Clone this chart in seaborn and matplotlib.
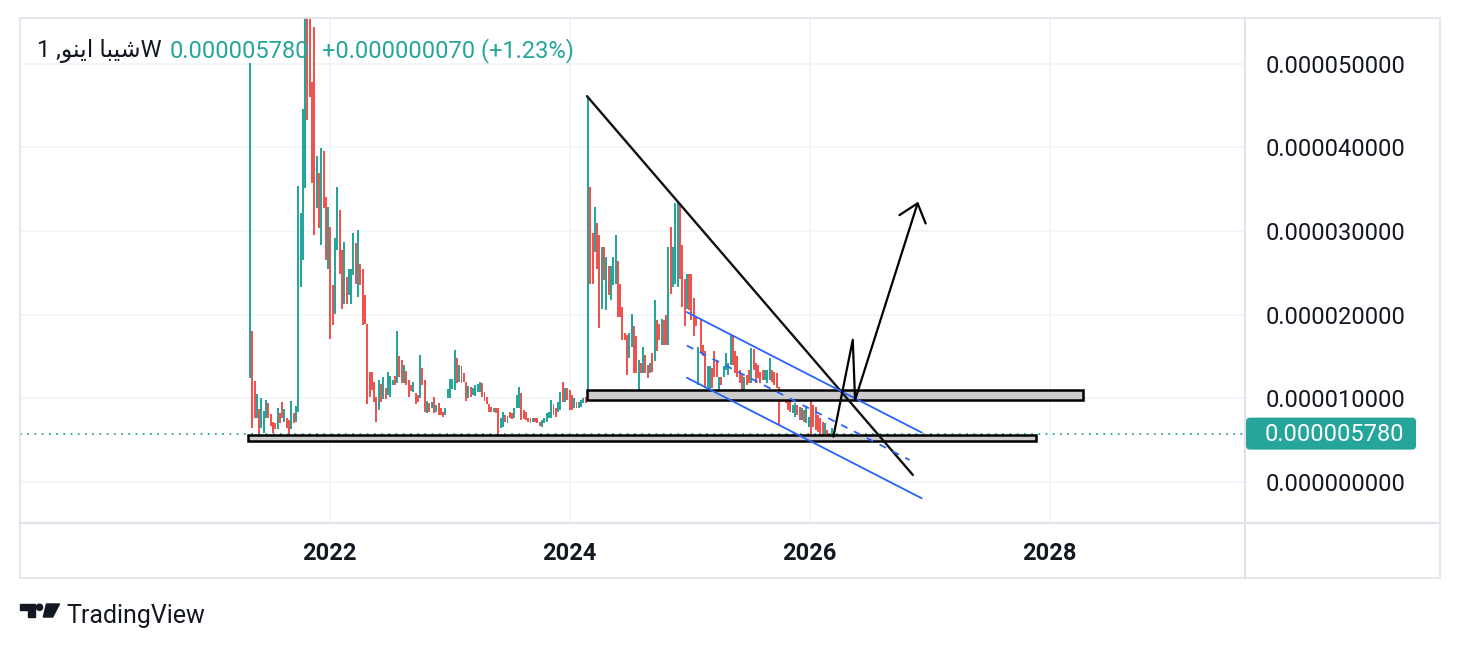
import numpy as np
import pandas as pd
import matplotlib
matplotlib.use('Agg')
import matplotlib.pyplot as plt
import matplotlib.dates as mdates
from matplotlib.patches import Rectangle, Polygon, Circle, FancyBboxPatch
import seaborn as sns

# 주간 봉 (단위: 1e-6), 막대 시작/끝 값
first_week = '2021-05-03'
bar_open = [
    12.4, 18.0, 12.1, 7.6, 8.7, 6.5, 5.9, 7.6, 9.4, 8.1,
    7.2, 7.0, 6.3, 8.3, 9.6, 7.2, 7.6, 7.4, 6.3, 8.3,
    7.2, 8.4, 23.3, 26.5, 35.1, 88.0, 70.0, 47.8, 54.4, 32.7,
    36.9, 28.3, 39.5, 34.1, 25.5, 30.5, 23.5, 20.1, 27.7, 32.5,
    27.7, 21.3, 24.5, 22.3, 21.3, 24.7, 28.5, 22.1, 26.1, 25.5,
    22.3, 18.9, 13.1, 13.1, 12.0, 10.2, 8.6, 11.7, 9.9, 11.2,
    10.4, 10.2, 11.6, 12.7, 11.8, 15.0, 14.6, 11.8, 13.3, 12.2,
    11.6, 10.8, 10.6, 10.4, 10.0, 13.6, 12.2, 8.2, 9.4, 8.8,
    10.2, 8.4, 9.4, 8.9, 8.4, 8.0, 10.0, 10.0, 11.1, 11.0,
    14.8, 11.9, 13.8, 13.0, 11.9, 10.0, 11.3, 10.4, 10.3, 10.8,
    10.7, 11.8, 10.8, 10.2, 9.3, 9.0, 8.4, 8.9, 8.9, 6.5,
    6.6, 8.0, 7.1, 8.4, 8.2, 7.6, 8.8, 8.8, 10.6, 8.6,
    8.4, 7.6, 7.7, 7.2, 7.6, 7.6, 7.2, 6.6, 7.0, 7.2,
    7.6, 7.6, 9.3, 8.8, 8.4, 8.6, 12.0, 9.6, 11.2, 11.0,
    10.4, 8.8, 9.5, 8.9, 9.0, 9.4, 10.1, 9.8, 35.3, 29.7,
    27.5, 30.9, 29.5, 20.7, 28.1, 20.5, 25.8, 21.7, 23.5, 23.7,
    26.4, 23.7, 20.9, 17.8, 17.6, 14.8, 16.1, 18.6, 17.4, 10.8,
    14.2, 13.0, 15.2, 14.0, 13.0, 15.4, 14.4, 19.3, 18.9, 16.4,
    19.3, 19.9, 16.4, 30.5, 23.3, 23.7, 23.3, 33.3, 28.3, 24.3,
    20.7, 24.9, 24.9, 22.0, 19.7, 11.6, 19.3, 16.4, 15.6, 11.0,
    10.8, 13.6, 15.6, 14.6, 10.4, 12.6, 12.6, 13.4, 12.8, 14.0,
    17.6, 15.6, 15.0, 13.4, 12.8, 10.6, 12.8, 13.4, 11.8, 15.9,
    14.2, 14.0, 13.2, 13.4, 12.2, 11.8, 12.2, 13.4, 13.2, 13.0,
    11.4, 10.8, 9.8, 10.8, 10.2, 9.8, 8.2, 7.8, 9.2, 9.0,
    7.4, 8.6, 7.0, 6.6, 11.0, 9.2, 9.0, 8.0, 7.6, 7.2,
    5.6, 6.2, 5.8, 5.4, 5.5,
]
bar_close = [
    50.1, 6.5, 7.6, 10.5, 5.7, 10.0, 8.5, 9.8, 7.6, 6.7,
    5.9, 6.3, 8.9, 7.1, 7.6, 8.7, 6.5, 5.3, 9.7, 7.1,
    9.1, 35.4, 32.1, 44.6, 64.0, 43.2, 46.0, 35.7, 29.5, 38.9,
    30.3, 39.9, 32.7, 26.5, 32.9, 17.1, 18.7, 29.1, 35.3, 24.9,
    20.7, 28.7, 21.3, 25.5, 25.5, 29.7, 23.7, 30.1, 23.5, 18.7,
    18.9, 9.3, 10.2, 11.0, 9.6, 7.2, 12.2, 9.6, 12.5, 9.9,
    13.2, 12.7, 12.2, 11.6, 18.0, 12.6, 11.8, 14.0, 11.6, 10.1,
    10.9, 11.9, 9.3, 9.6, 15.2, 11.6, 8.4, 9.7, 8.4, 9.5,
    8.2, 9.2, 8.0, 8.0, 7.8, 8.8, 11.1, 12.3, 12.3, 15.8,
    11.8, 14.0, 11.8, 12.0, 9.7, 11.5, 10.2, 11.2, 11.6, 11.7,
    12.0, 10.2, 9.7, 9.3, 8.4, 8.4, 8.9, 8.3, 5.4, 7.6,
    8.4, 7.2, 7.9, 7.6, 7.5, 8.8, 10.4, 11.3, 7.4, 7.5,
    7.4, 7.2, 7.1, 7.7, 7.2, 7.0, 6.7, 7.4, 7.6, 8.2,
    8.4, 9.8, 8.0, 7.8, 9.6, 10.8, 9.6, 11.2, 9.8, 8.6,
    8.6, 10.0, 8.9, 9.5, 9.8, 10.0, 9.4, 46.0, 23.7, 23.7,
    32.9, 25.5, 18.4, 28.1, 24.1, 26.9, 22.3, 25.8, 26.9, 29.5,
    19.7, 19.7, 17.0, 17.0, 12.8, 17.8, 20.1, 13.0, 13.0, 14.6,
    13.0, 16.1, 13.0, 12.4, 14.2, 13.2, 21.7, 15.7, 17.0, 19.5,
    16.4, 16.4, 28.1, 22.5, 28.1, 33.3, 33.5, 24.3, 20.9, 18.6,
    24.9, 20.5, 19.3, 17.4, 18.6, 16.1, 15.4, 15.0, 11.2, 13.8,
    13.8, 11.2, 12.6, 12.6, 12.6, 11.6, 13.8, 15.4, 14.2, 17.6,
    14.0, 13.0, 12.6, 11.8, 10.2, 12.6, 11.6, 11.8, 16.0, 13.4,
    11.8, 12.4, 11.8, 12.2, 13.4, 13.4, 14.8, 12.0, 11.6, 11.2,
    6.8, 9.6, 10.8, 9.4, 8.6, 8.4, 9.2, 9.4, 8.0, 7.4,
    8.8, 7.2, 9.0, 7.8, 5.2, 6.6, 6.2, 6.0, 5.2, 5.2,
    7.0, 5.4, 5.2, 6.4, 5.78,
]
prev_close = 5.71

# 차트 위 그림 (날짜, 값)
trend_x = ['2024-02-23', '2026-11-11']
trend_y = [46.1, 0.84]
zone_x0 = ['2024-02-23', '2021-04-28']
zone_x1 = ['2028-04-13', '2027-11-20']
zone_lo = [9.8, 4.9]
zone_hi = [11.0, 5.6]
chan_x = ['2024-12-23', '2026-12-08']
chan_upper = [20.3, 5.9]
chan_lower = [12.46, -1.95]
mid_x = ['2024-12-23', '2026-11-01']
mid_y = [16.3, 2.63]
path_x = ['2026-03-14', '2026-05-12', '2026-05-19', '2026-11-27']
path_y = [5.42, 16.99, 9.8, 33.5]

year_ticks = ['2022', '2024', '2026', '2028']
price_ticks = [0, 10, 20, 30, 40, 50]

TEAL = '#26a69a'
RED = '#ef5350'
INK = '#131722'
BLUE = '#2962ff'
LINE = '#e0e3eb'

sns.set_theme(style='white')
plt.rcParams['font.family'] = ['Roboto', 'DejaVu Sans']

W, H = 1460, 650
fig = plt.figure(figsize=(W / 100, H / 100), dpi=100)
fig.patch.set_facecolor('white')
ax = fig.add_axes([20 / W, 1 - 523 / H, 1225 / W, 505 / H])
ax.set_facecolor('white')

dates = pd.date_range(first_week, periods=len(bar_open), freq='7D')
xs = mdates.date2num(dates)
o = np.array(bar_open)
c = np.array(bar_close)
colors = np.where(c >= o, TEAL, RED)
ax.bar(xs, c - o, bottom=o, width=6.0, color=colors, linewidth=0, zorder=2)

d = lambda s: mdates.date2num(pd.to_datetime(s))

# 박스 구간
for x0, x1, lo, hi in zip(zone_x0, zone_x1, zone_lo, zone_hi):
    ax.add_patch(Rectangle((d(x0), lo), d(x1) - d(x0), hi - lo,
                           facecolor='#cccccc', edgecolor='black', lw=1.8, zorder=4))

# 추세선 / 채널
sns.lineplot(x=[d(v) for v in trend_x], y=trend_y, ax=ax, color='#111111',
             lw=1.7, sort=False, estimator=None, zorder=5)
for ys in (chan_upper, chan_lower):
    sns.lineplot(x=[d(v) for v in chan_x], y=ys, ax=ax, color=BLUE,
                 lw=1.3, sort=False, estimator=None, zorder=5)
ax.plot([d(v) for v in mid_x], mid_y, color=BLUE, lw=1.3,
        ls=(0, (4, 4)), zorder=5)

px = [d(v) for v in path_x]
ax.plot(px[:3], path_y[:3], color='black', lw=1.6, zorder=6)
ax.annotate('', xy=(px[3], path_y[3]), xytext=(px[2], path_y[2]),
            arrowprops=dict(arrowstyle='->,head_width=0.45,head_length=0.55',
                            color='black', lw=1.6,
                            mutation_scale=22, shrinkA=0, shrinkB=0), zorder=6)

# 현재가 점선
last = bar_close[-1]
ax.axhline(last, color=TEAL, lw=1.3, ls=(0, (1, 3)), zorder=3)

ax.set_xlim(d('2019-06-03'), d('2029-08-18'))
ax.set_ylim(-4.9, 55.44)

ax.set_xticks([d(y + '-01-01') for y in year_ticks])
ax.set_xticklabels(year_ticks, fontsize=17, fontweight='bold', color=INK)
ax.set_yticks(price_ticks)
ax.set_yticklabels([f'{v * 1e-6:.9f}' for v in price_ticks], fontsize=17, color=INK)
ax.yaxis.tick_right()
ax.tick_params(axis='y', length=0, pad=14.5)
ax.tick_params(axis='x', length=0, pad=14)
ax.grid(True, color='#f0f3fa', lw=1.2)
for s in ax.spines.values():
    s.set_visible(False)

# 외곽선, 로고 등 (픽셀 좌표)
ov = fig.add_axes([0, 0, 1, 1], zorder=10)
ov.set_xlim(0, W)
ov.set_ylim(H, 0)
ov.axis('off')
ov.patch.set_visible(False)
ov.add_patch(Rectangle((20, 18), 1420, 560, fill=False, edgecolor=LINE, lw=1.2))
ov.plot([1245, 1245], [18, 578], color=LINE, lw=1.5)
ov.plot([20, 1440], [523, 523], color=LINE, lw=1.5)

ypix = H - ax.transData.transform((0, last))[1]
ov.add_patch(FancyBboxPatch((1246, ypix - 16), 170, 32,
                            boxstyle='round,pad=0,rounding_size=4',
                            facecolor=TEAL, edgecolor='none'))
ov.text(1265, ypix + 1, f'{last * 1e-6:.9f}', color='white', fontsize=17,
        va='center', ha='left')

name = '1 ,' + '\ufeee\ufee8\ufbfe\ufe8d' + ' ' + '\ufe8e\ufe92\ufbff\ufeb7' + 'W'
ov.text(37, 51, name, color=INK, fontsize=17, va='center', ha='left')
ov.text(170, 51, f'{last * 1e-6:.9f}', color=TEAL, fontsize=17, va='center', ha='left')
chg = last - prev_close
ov.text(322, 51, f'+{chg * 1e-6:.9f} (+{chg / prev_close * 100:.2f}%)',
        color=TEAL, fontsize=17, va='center', ha='left')

# TradingView 로고
ov.add_patch(Polygon([(20, 604), (35, 604), (35, 617), (28.3, 617),
                      (28.3, 609.5), (20, 609.5)], closed=True, color=INK))
ov.add_patch(Circle((39.5, 607.3), 3.1, color=INK))
ov.add_patch(Polygon([(46.5, 604), (59.5, 604), (52.7, 617), (43.3, 617)],
                     closed=True, color=INK))
ov.text(66, 616, 'TradingView', color=INK, fontsize=18, va='center', ha='left')

fig.savefig('out.png', dpi=100, facecolor='white')
